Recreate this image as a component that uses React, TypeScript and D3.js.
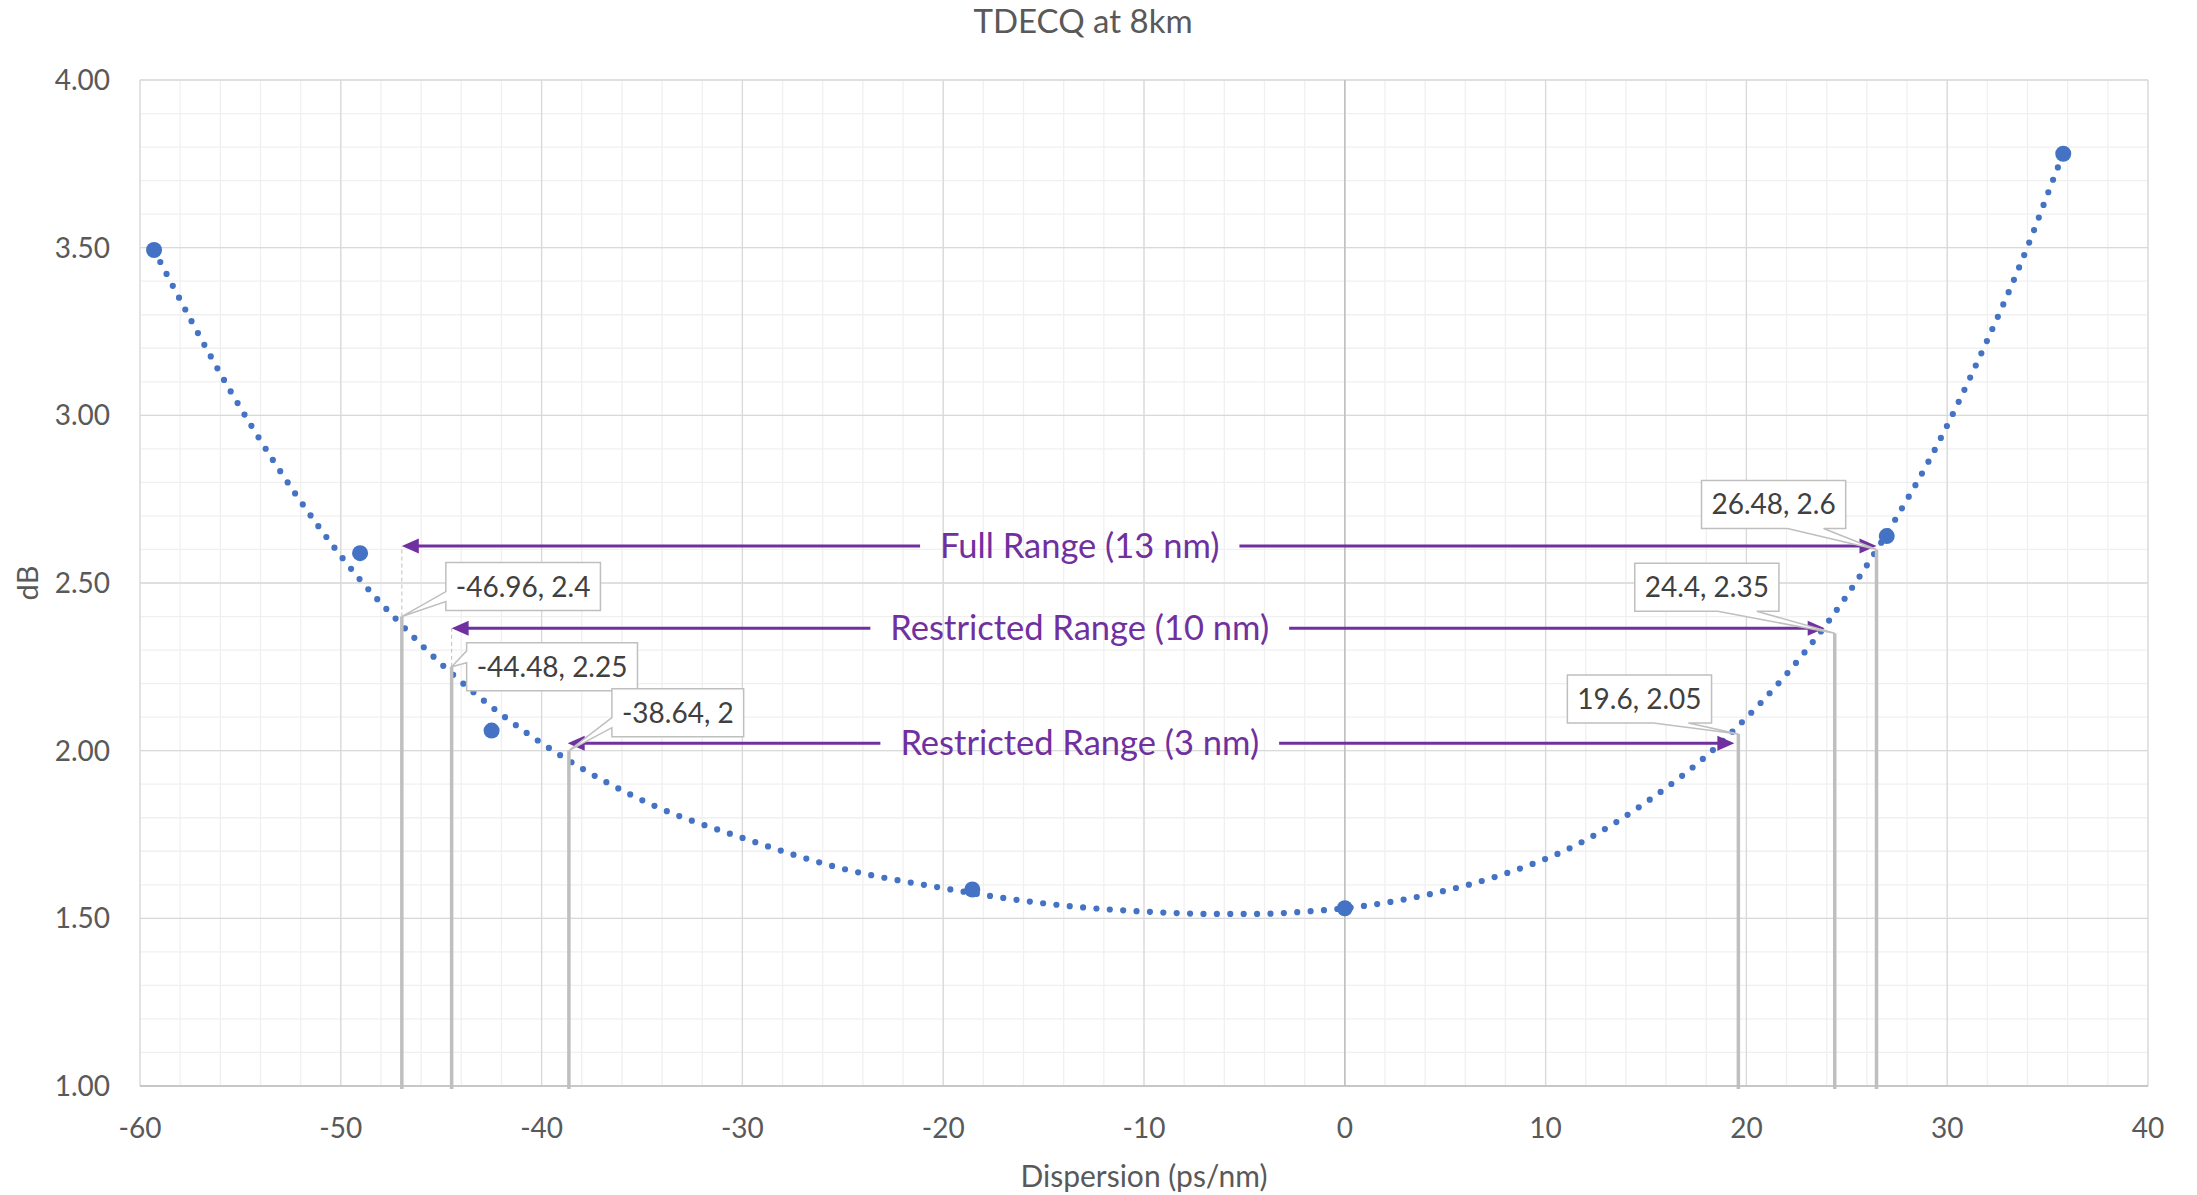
import { useEffect, useRef } from 'react';
import * as d3 from 'd3';

const width = 2197;
const height = 1195;
const margin = { top: 80, right: 49, bottom: 109, left: 140 };
const font = "Lato, 'Open Sans', sans-serif";

// measured TDECQ values
const dispersion = [-59.3, -49.04, -42.49, -18.55, 0, 26.99, 35.78];
const tdecq = [3.493, 2.589, 2.06, 1.586, 1.53, 2.64, 3.78];

// trendline as drawn in the original
const trendX = [-59.3, -55.5, -51.04, -48.93, -47.05, -44.64, -42.0, -39.22, -34.4, -30, -25, -20, -16.67,
  -13.98, -9.92, -6.51, -4.45, -1.75, 0.97, 4.31, 7.61, 11.5, 15.45, 18.15, 19.63, 21.95, 24.08, 27.45,
  29.14, 31.83, 33.99, 35.45, 35.78];
const trendY = [3.493, 3.073, 2.663, 2.502, 2.38, 2.239, 2.108, 1.992, 1.836, 1.74, 1.648, 1.59, 1.558,
  1.538, 1.52, 1.513, 1.513, 1.521, 1.537, 1.573, 1.626, 1.718, 1.865, 1.992, 2.076, 2.225, 2.385, 2.693,
  2.87, 3.202, 3.501, 3.73, 3.78];

const xTicks = [-60, -50, -40, -30, -20, -10, 0, 10, 20, 30, 40];
const yTicks = [1, 1.5, 2, 2.5, 3, 3.5, 4];

// marked points
const markX = [-46.96, -44.48, -38.64, 19.6, 24.4, 26.48];
const markY = [2.4, 2.25, 2, 2.05, 2.35, 2.6];
const markLabels = ['-46.96, 2.4', '-44.48, 2.25', '-38.64, 2', '19.6, 2.05', '24.4, 2.35', '26.48, 2.6'];

// range arrows
const rangeNames = ['Full Range (13 nm)', 'Restricted Range (10 nm)', 'Restricted Range (3 nm)'];
const rangeLevel = [2.61, 2.365, 2.022];
const rangeFrom = [-46.96, -44.48, -38.7];
const rangeTo = [26.48, 23.9, 19.4];
const rangeTextAt = -13.2;

// callout box placement relative to its point (px)
const calloutLayout = [
  { dx: 44, dy: -54, side: 'left', w0: 29, w1: 39 },
  { dx: 15, dy: -24, side: 'left', w0: 8, w1: 20 },
  { dx: 43, dy: -62, side: 'left', w0: 29, w1: 39 },
  { dx: -171, dy: -59, side: 'bottom', w0: 86, w1: 121 },
  { dx: -200, dy: -70, side: 'bottom', w0: 83, w1: 122 },
  { dx: -175, dy: -69, side: 'bottom', w0: 86, w1: 122 },
];

export default function App() {
  const ref = useRef<SVGSVGElement>(null);

  useEffect(() => {
    document.body.style.margin = '0';
    const svg = d3.select(ref.current);
    svg.selectAll('*').remove();

    const x = d3.scaleLinear().domain([-60, 40]).range([margin.left, width - margin.right]);
    const y = d3.scaleLinear().domain([1, 4]).range([height - margin.bottom, margin.top]);

    // grid
    const grid = svg.append('g');
    grid.selectAll('.mx').data(d3.range(-60, 40.01, 2)).join('line')
      .attr('x1', d => x(d)).attr('x2', d => x(d))
      .attr('y1', y(1)).attr('y2', y(4))
      .attr('stroke', '#f0f0f0').attr('stroke-width', 1.3);
    grid.selectAll('.my').data(d3.range(10, 40.01, 1).map(v => v / 10)).join('line')
      .attr('y1', d => y(d)).attr('y2', d => y(d))
      .attr('x1', x(-60)).attr('x2', x(40))
      .attr('stroke', '#f0f0f0').attr('stroke-width', 1.3);
    grid.selectAll('.Mx').data(xTicks).join('line')
      .attr('x1', d => x(d)).attr('x2', d => x(d))
      .attr('y1', y(1)).attr('y2', y(4))
      .attr('stroke', '#d9d9d9').attr('stroke-width', 1.3);
    grid.selectAll('.My').data(yTicks).join('line')
      .attr('y1', d => y(d)).attr('y2', d => y(d))
      .attr('x1', x(-60)).attr('x2', x(40))
      .attr('stroke', '#d9d9d9').attr('stroke-width', 1.3);

    // axis lines
    svg.append('line').attr('x1', x(0)).attr('x2', x(0)).attr('y1', y(1)).attr('y2', y(4))
      .attr('stroke', '#bfbfbf').attr('stroke-width', 1.5);
    svg.append('line').attr('x1', x(-60)).attr('x2', x(40)).attr('y1', y(1)).attr('y2', y(1))
      .attr('stroke', '#bfbfbf').attr('stroke-width', 1.5);

    // tick labels
    svg.append('g').selectAll('text').data(xTicks).join('text')
      .attr('x', d => x(d)).attr('y', y(1) + 52)
      .attr('text-anchor', 'middle')
      .attr('font-family', font).attr('font-size', 28).attr('fill', '#595959')
      .text(d => String(d));
    svg.append('g').selectAll('text').data(yTicks).join('text')
      .attr('x', margin.left - 30).attr('y', d => y(d) + 10)
      .attr('text-anchor', 'end')
      .attr('font-family', font).attr('font-size', 28).attr('fill', '#595959')
      .text(d => d3.format('.2f')(d));

    // titles
    svg.append('text').attr('x', 1083).attr('y', 33).attr('text-anchor', 'middle')
      .attr('font-family', font).attr('font-size', 33).attr('fill', '#595959')
      .text('TDECQ at 8km');
    svg.append('text').attr('x', (x(-60) + x(40)) / 2).attr('y', 1187).attr('text-anchor', 'middle')
      .attr('font-family', font).attr('font-size', 30).attr('fill', '#595959')
      .text('Dispersion (ps/nm)');
    svg.append('text').attr('transform', `translate(38,${(y(1) + y(4)) / 2}) rotate(-90)`)
      .attr('text-anchor', 'middle')
      .attr('font-family', font).attr('font-size', 29).attr('fill', '#595959')
      .text('dB');

    // dotted trendline
    const trend = d3.line<number>()
      .x(d => x(d))
      .y((_, i) => y(trendY[i]))
      .curve(d3.curveMonotoneX);
    svg.append('path')
      .attr('d', trend(trendX))
      .attr('fill', 'none').attr('stroke', '#4472c4').attr('stroke-width', 6.2)
      .attr('stroke-linecap', 'round').attr('stroke-dasharray', '0 13.4');

    // scatter points
    svg.append('g').selectAll('circle').data(dispersion).join('circle')
      .attr('cx', d => x(d)).attr('cy', (_, i) => y(tdecq[i])).attr('r', 8)
      .attr('fill', '#4472c4');

    // vertical marker lines
    svg.append('g').selectAll('line').data(markX).join('line')
      .attr('x1', d => x(d)).attr('x2', d => x(d))
      .attr('y1', y(1) + 3).attr('y2', (_, i) => y(markY[i]))
      .attr('stroke', '#bfbfbf').attr('stroke-width', 3.5);
    [0, 1].forEach(i => {
      svg.append('line').attr('x1', x(markX[i])).attr('x2', x(markX[i]))
        .attr('y1', y(markY[i])).attr('y2', y(rangeLevel[i]))
        .attr('stroke', '#bfbfbf').attr('stroke-width', 1).attr('stroke-dasharray', '4 3');
    });

    // range arrows
    const purple = '#7030a0';
    rangeNames.forEach((name, i) => {
      const ly = y(rangeLevel[i]);
      const t = svg.append('text').attr('x', x(rangeTextAt)).attr('y', ly + 12)
        .attr('text-anchor', 'middle')
        .attr('font-family', font).attr('font-size', 34.5).attr('fill', purple)
        .text(name);
      const tw = (t.node() as SVGTextElement).getComputedTextLength();
      const left = x(rangeFrom[i]);
      const right = x(rangeTo[i]);
      const gapL = x(rangeTextAt) - tw / 2 - 20;
      const gapR = x(rangeTextAt) + tw / 2 + 20;
      svg.append('line').attr('x1', left + 10).attr('x2', gapL).attr('y1', ly).attr('y2', ly)
        .attr('stroke', purple).attr('stroke-width', 3);
      svg.append('line').attr('x1', gapR).attr('x2', right - 10).attr('y1', ly).attr('y2', ly)
        .attr('stroke', purple).attr('stroke-width', 3);
      svg.append('path').attr('d', `M${left},${ly}L${left + 17},${ly - 7.5}L${left + 17},${ly + 7.5}Z`)
        .attr('fill', purple);
      svg.append('path').attr('d', `M${right},${ly}L${right - 17},${ly - 7.5}L${right - 17},${ly + 7.5}Z`)
        .attr('fill', purple);
    });

    // callouts
    markLabels.forEach((label, i) => {
      const tx = x(markX[i]);
      const ty = y(markY[i]);
      const lay = calloutLayout[i];
      const g = svg.append('g');
      const box = g.append('path');
      const bx = tx + lay.dx;
      const by = ty + lay.dy;
      const bh = 48;
      const t = g.append('text').attr('y', by + bh / 2 + 10)
        .attr('text-anchor', 'middle')
        .attr('font-family', font).attr('font-size', 28).attr('fill', '#404040')
        .text(label);
      const bw = (t.node() as SVGTextElement).getComputedTextLength() + 20;
      t.attr('x', bx + bw / 2);
      const d = lay.side === 'left'
        ? `M${bx},${by}H${bx + bw}V${by + bh}H${bx}V${by + lay.w1}L${tx},${ty}L${bx},${by + lay.w0}Z`
        : `M${bx},${by}H${bx + bw}V${by + bh}H${bx + lay.w1}L${tx},${ty}L${bx + lay.w0},${by + bh}H${bx}Z`;
      box.attr('d', d).attr('fill', '#fff').attr('stroke', '#bfbfbf').attr('stroke-width', 1.5);
    });
  }, []);

  return <svg ref={ref} width={width} height={height} style={{ display: 'block', background: '#fff' }} />;
}
